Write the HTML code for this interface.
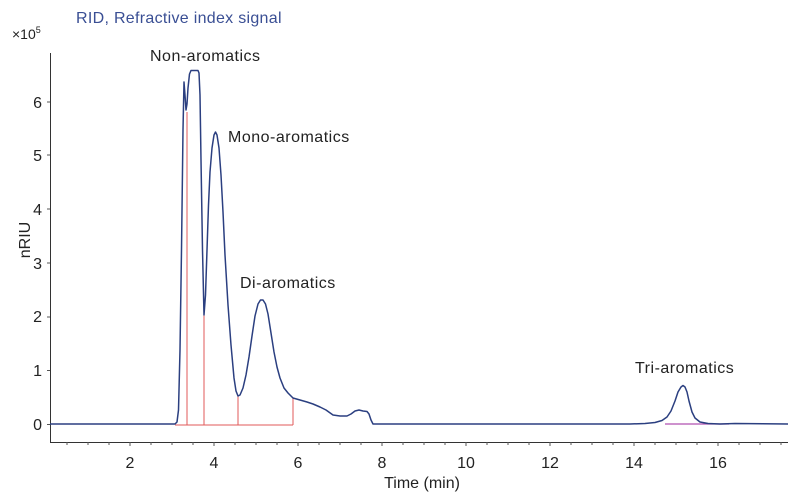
<!DOCTYPE html>
<html><head><style>
body{margin:0;background:#fff;}
svg{display:block;font-family:"Liberation Sans",sans-serif;}
</style></head><body>
<svg width="800" height="499" viewBox="0 0 800 499">
<text x="76" y="23" font-size="16" fill="#3a4f94" letter-spacing="0.3">RID, Refractive index signal</text>
<text x="12" y="39" font-size="14" fill="#222">×10<tspan font-size="9" dy="-6">5</tspan></text>
<text transform="translate(30,240) rotate(-90)" font-size="16" fill="#222" text-anchor="middle">nRIU</text>
<g font-size="16" fill="#222" text-anchor="end">
<text x="42" y="430">0</text><text x="42" y="376">1</text><text x="42" y="322">2</text>
<text x="42" y="269">3</text><text x="42" y="215">4</text><text x="42" y="161">5</text><text x="42" y="108">6</text>
</g>
<g font-size="16" fill="#222" text-anchor="middle">
<text x="130" y="468">2</text><text x="214" y="468">4</text><text x="298" y="468">6</text><text x="382" y="468">8</text>
<text x="466" y="468">10</text><text x="550" y="468">12</text><text x="634" y="468">14</text><text x="718" y="468">16</text>
<text x="422" y="488">Time (min)</text>
</g>
<g font-size="16" fill="#222" letter-spacing="0.5">
<text x="150" y="61">Non-aromatics</text>
<text x="228" y="142">Mono-aromatics</text>
<text x="240" y="288">Di-aromatics</text>
<text x="635" y="373">Tri-aromatics</text>
</g>
<path d="M50.5 53V442.5H788" stroke="#333" stroke-width="1" fill="none"/>
<g stroke="#555" stroke-width="1">
<path d="M67 442v3M88 442v3M109 442v3M130 442v4M151 442v3M172 442v3M193 442v3M214 442v4M235 442v3M256 442v3M277 442v3M298 442v4M319 442v3M340 442v3M361 442v3M382 442v4M403 442v3M424 442v3M445 442v3M466 442v4M487 442v3M508 442v3M529 442v3M550 442v4M571 442v3M592 442v3M613 442v3M634 442v4M655 442v3M676 442v3M697 442v3M718 442v4M739 442v3M760 442v3M781 442v3"/>
<path d="M47 424.5h3M47 370.5h3M47 317h3M47 263h3M47 209h3M47 155h3M47 102h3"/>
</g>
<g stroke="#e05a5a" stroke-width="1" fill="none">
<path d="M175 425H293M187 425V112M204 425V315M238 425V396M293 425V398"/>
</g>
<path d="M665 424H729" stroke="#b050b0" stroke-width="1.2"/>
<path fill="none" stroke="#2b3f80" stroke-width="1.5" stroke-linejoin="round" d="M50 424H175L177 422L178.5 410L180 350L181.5 250L183 130L184 82L185 95L186 110L187 104L188 88L189.5 74L191 70.5H198L199 73L200 95L201 160L202.5 250L204 315L205.5 295L207 250L208.5 205L210 172L212 148L214 135L215.5 132L217 135L219 148L221 175L223 212L225 255L228 305L231 345L234 378L236 391L238 396L240 395L243 388L246 375L249 357L252 336L255 316L258 304L260.5 300L263 300L265.5 304L268 314L271 333L274 352L277 367L280 378L284 388L288 393L293 398L300 400L307 402L313 404L320 407L326 410L333 415L340 416L347 416L351 414L355 411L359 410L363 411L367 411.5L369 414L371 420L373 424H630L645 423.5L655 422.5L662 420.5L667 417L671 411L675 401L678 392L681 387L683 385.5L685 387L687 392L689 401L692 412L695 418L700 422L708 423.5L720 424L735 423.5L788 424"/>
</svg>
</body></html>
